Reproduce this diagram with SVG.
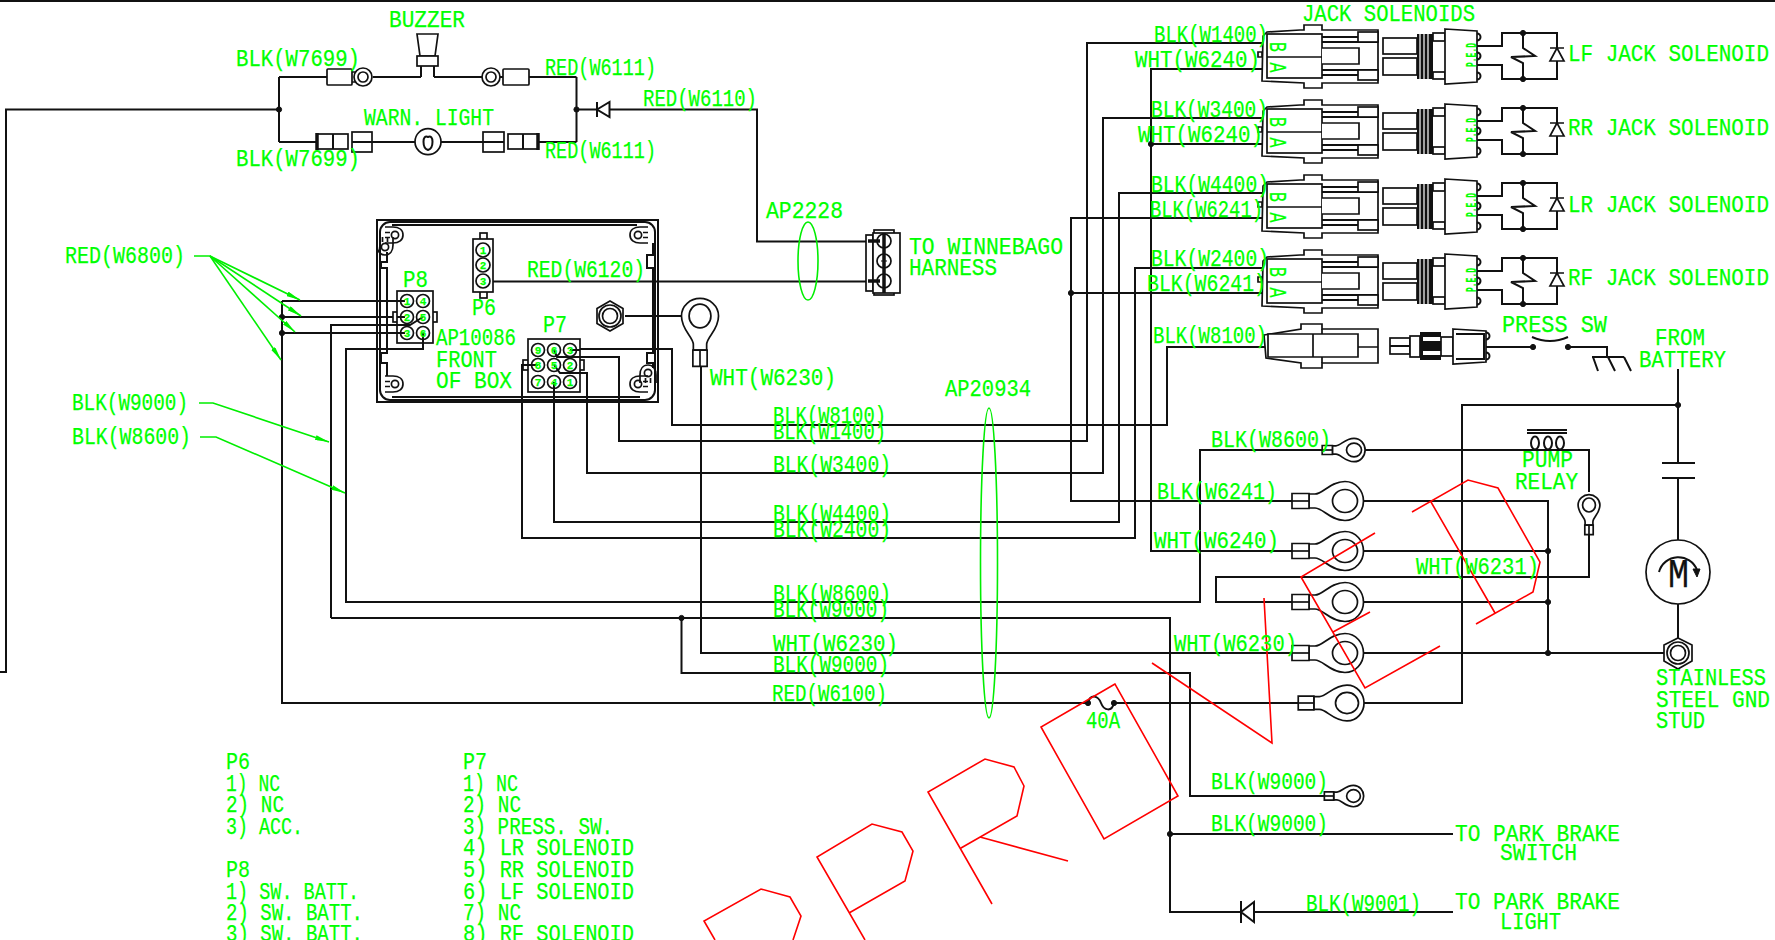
<svg xmlns="http://www.w3.org/2000/svg" width="1775" height="940" viewBox="0 0 1775 940">
<style>
text{font-family:"Liberation Mono",monospace;fill:#00ff00;font-size:23px;stroke:#00ff00;stroke-width:.25}
.pin{font-size:11px;font-weight:bold;text-anchor:middle}
.ped{font-size:15px;font-weight:bold}
.w{fill:none;stroke:#111;stroke-width:2}
.s{fill:#fff;stroke:#111;stroke-width:1.7}
.n{fill:none;stroke:#111;stroke-width:1.7;vector-effect:non-scaling-stroke}
.ns{fill:#fff;stroke:#111;stroke-width:1.7;vector-effect:non-scaling-stroke}
.g{fill:none;stroke:#00ee00;stroke-width:1.6}
.r{fill:none;stroke:#f00;stroke-width:1.6}
.k{fill:#111;stroke:#111;stroke-width:1}
</style>
<defs>
<marker id="ah" viewBox="0 0 14 5" refX="14" refY="2.5" markerWidth="14" markerHeight="5" markerUnits="userSpaceOnUse" orient="auto"><path d="M0,0L14,2.5L0,5z" fill="#00ee00"/></marker>
<g id="ring">
<path class="ns" d="M-36,-7L-30,-7C-22,-7-15,-19.5 0,-19.5C11,-19.5 18.5,-10 18.5,0C18.5,10 11,19.5 0,19.5C-15,19.5-22,7-30,7L-36,7Z"/>
<ellipse class="n" rx="12.5" ry="11.5"/>
<rect class="ns" x="-53" y="-7.5" width="17" height="15"/>
<path class="n" d="M-53,0H-36"/>
</g>
<g id="boss">
<circle class="n" r="3.6"/>
<path class="n" d="M-10,-8H-2C4,-8 8,-5 8,0C8,5 4,8 -2,8H-10M-10,-2.5H-5M-10,2.5H-5"/>
</g>
<g id="jack">
<path class="s" d="M1263,36L1267,32L1300,30L1304,30L1304,25L1322,25L1322,30L1378,30L1378,83L1322,83L1322,88L1304,88L1304,83L1262,81Z"/>
<path class="w" d="M1322,37H1378M1322,42H1378M1322,70H1378M1322,75H1378"/>
<rect class="s" x="1267" y="34" width="55" height="44"/>
<path class="s" d="M1267,57H1322M1322,48H1359V64H1322"/>
<rect class="s" x="1358" y="32" width="20" height="10"/>
<rect class="s" x="1358" y="70" width="20" height="10"/>
<path class="s" d="M1262,52h-4v5h4z"/>
<rect class="s" x="1383" y="38" width="34" height="16"/>
<rect class="s" x="1383" y="58" width="34" height="17"/>
<rect x="1417" y="34" width="16" height="45" fill="#111"/>
<path stroke="#fff" stroke-width="1.2" d="M1420,34V79M1424,34V79M1428,34V79"/>
<rect class="s" x="1433" y="33" width="12" height="8"/>
<rect class="s" x="1433" y="72" width="12" height="7"/>
<path class="s" d="M1445,29L1477,31V82L1445,84Z"/>
<path class="w" d="M1477,33.5a3.5,3.5 0 0 1 0,7M1477,52.5a3.5,3.5 0 0 1 0,7M1477,72.5a3.5,3.5 0 0 1 0,7"/>
<path class="w" d="M1477,46H1502V33H1557V79H1502V65H1477"/>
<path class="w" d="M1523,33V48L1535,56L1511,57L1523,63V79"/>
<circle class="k" cx="1523" cy="33" r="2.6"/><circle class="k" cx="1523" cy="79" r="2.6"/>
<path class="s" d="M1557,48L1550,61H1564ZM1550,48H1564"/>
</g>
</defs>

<path d="M0,1H1775" stroke="#111" stroke-width="2"/>

<g id="connectors">
<path class="w" d="M0,672H6V109.5H279M279,77V142M279,77H327M373,77H421M434,77H503M529,77H576.5M576.5,77V142M279,142H317M372,142H415M441,142H483M538,142H576.5M576.5,109.5H597"/>
<path class="w" d="M610,109.5H757V241.5H868M483,281.5H868"/>
<path class="w" d="M282,301V703H1088M282,301H407M282,317H407M282,333H407M1114,703H1299M1364,703H1462V405H1678"/>
<path class="w" d="M1678,369V463M1678,478V540M1678,604V639"/>
<path class="w" d="M331,618V325H410L423,317M331,618H1170V912H1241M1254,912H1453M1170,834H1453M681.5,618V673H1190V796H1324"/>
<path class="w" d="M423,333V349H346V602H1200V450H1323M1365,450H1589V492M1589,535V577H1216V602H1292"/>
<path class="w" d="M1364,501H1548V653M1364,551H1548M1364,602H1548M1364,653H1664"/>
<path class="w" d="M570,349H672V425H1167V347H1266"/>
<path class="w" d="M554,350L557,357H619V441H1087V43H1262"/>
<path class="w" d="M554,365L560,373H587V473H1103V118H1262"/>
<path class="w" d="M554,382V522H1119V193H1262"/>
<path class="w" d="M538,365H522V538H1135V268H1262"/>
<path class="w" d="M701,361V653H1292"/>
<path class="w" d="M1292,501H1071V218H1262M1071,293H1262"/>
<path class="w" d="M1292,551H1151V69H1262M1151,144H1262"/>
<path class="w" d="M625,316H684"/>
<path class="w" d="M1484,347H1533M1568,347H1607V357"/>
<circle class="k" cx="279" cy="109.5" r="2.6"/><circle class="k" cx="576.5" cy="109.5" r="2.6"/>
<circle class="k" cx="282" cy="317" r="2.6"/><circle class="k" cx="282" cy="333" r="2.6"/>
<circle class="k" cx="681.5" cy="618" r="2.6"/><circle class="k" cx="1170" cy="834" r="2.6"/>
<circle class="k" cx="1071" cy="293" r="2.6"/><circle class="k" cx="1151" cy="144" r="2.6"/>
<circle class="k" cx="1678" cy="405" r="2.6"/>
<circle class="k" cx="1548" cy="551" r="2.6"/><circle class="k" cx="1548" cy="602" r="2.6"/><circle class="k" cx="1548" cy="653" r="2.6"/>
</g>

<g id="leaders">
<path class="g" d="M194,256H210L300,300" marker-end="url(#ah)"/>
<path class="g" d="M210,256L301,316" marker-end="url(#ah)"/>
<path class="g" d="M210,256L295,332" marker-end="url(#ah)"/>
<path class="g" d="M210,256L281,360" marker-end="url(#ah)"/>
<path class="g" d="M199,403H213L329,442" marker-end="url(#ah)"/>
<path class="g" d="M200,437H216L345,493" marker-end="url(#ah)"/>
<ellipse class="g" cx="808" cy="261" rx="10" ry="39"/>
<ellipse class="g" cx="989" cy="563" rx="8.5" ry="155"/>
</g>

<g id="diode-top"><path class="w" d="M597,102V117M597,109.5L609.5,102V117Z" fill="#fff"/></g>
<g id="buzzer">
<path class="s" d="M417,34H438L435,56H420Z"/><rect class="s" x="417" y="56" width="21" height="10"/>
<path class="w" d="M421,66V77M434,66V77"/>
</g>
<g id="term-tl"><rect class="s" x="327" y="69" width="25" height="16" rx="1"/><path class="s" d="M352,72H356M352,82H356"/><circle class="s" cx="363" cy="77" r="9"/><circle class="s" cx="363" cy="77" r="5"/></g>
<g id="term-tr"><rect class="s" x="503" y="69" width="26" height="16" rx="1"/><circle class="s" cx="491" cy="77" r="9"/><circle class="s" cx="491" cy="77" r="5"/></g>
<g id="lamp"><circle class="s" cx="428" cy="141.7" r="13"/><path class="w" d="M428,137C422,134 422,148 428,150C434,148 434,134 428,137Z"/></g>
<g id="plug-l"><rect class="s" x="317" y="134" width="31" height="15"/><path class="w" d="M333,134V149"/><path stroke="#111" stroke-width="3.5" d="M317,133V150"/><rect class="s" x="352" y="132" width="20" height="20"/><path class="w" d="M352,142H372"/></g>
<g id="plug-r"><rect class="s" x="483" y="132" width="21" height="20"/><path class="w" d="M483,142H504"/><rect class="s" x="508" y="134" width="30" height="15"/><path class="w" d="M523,134V149"/><path stroke="#111" stroke-width="3.5" d="M538,133V150"/></g>

<g id="box">
<rect x="377" y="220" width="281" height="182" fill="none" stroke="#111" stroke-width="2"/>
<rect x="380" y="222" width="275" height="178" rx="10" class="w"/>
<path class="w" d="M392,225H637M392,397H640M387,252V262H381V268H387V353H381V363H387V376M653,243V255H647V268H653V353H647V363H653V368"/>
<use href="#boss" transform="translate(395,235)"/>
<use href="#boss" transform="translate(385,247) rotate(90)"/>
<use href="#boss" transform="translate(638,235) scale(-1,1)"/>
<use href="#boss" transform="translate(395,384)"/>
<use href="#boss" transform="translate(638,384) scale(-1,1)"/>
<use href="#boss" transform="translate(648,373) rotate(-90)"/>
</g>

<g id="P6">
<rect class="s" x="480" y="233" width="7" height="65"/><rect class="s" x="473" y="239" width="20" height="53"/>
<circle class="s" cx="483" cy="250" r="7"/><circle class="s" cx="483" cy="265" r="7"/><circle class="s" cx="483" cy="281" r="7"/>
<text class="pin" x="483" y="254">1</text><text class="pin" x="483" y="269">2</text><text class="pin" x="483" y="285">3</text>
</g>
<g id="P8">
<rect class="s" x="393" y="312" width="44" height="10"/><rect class="s" x="397" y="291" width="36" height="52"/>
<circle class="s" cx="407" cy="301" r="6.5"/><circle class="s" cx="423" cy="301" r="6.5"/><circle class="s" cx="407" cy="317" r="6.5"/><circle class="s" cx="423" cy="317" r="6.5"/><circle class="s" cx="407" cy="333" r="6.5"/><circle class="s" cx="423" cy="333" r="6.5"/>
<path class="w" d="M397,301H405M397,317H405M397,325H410L423,317M397,333H405M423,333V343"/>
<text class="pin" x="407" y="305">1</text><text class="pin" x="423" y="305">4</text><text class="pin" x="407" y="321">2</text><text class="pin" x="423" y="321">5</text><text class="pin" x="407" y="337">3</text><text class="pin" x="423" y="337">6</text>
</g>
<g id="P7">
<rect class="s" x="523" y="360" width="61" height="10"/><rect class="s" x="528" y="339" width="52" height="53"/>
<circle class="s" cx="538" cy="350" r="6.5"/><circle class="s" cx="554" cy="350" r="6.5"/><circle class="s" cx="570" cy="350" r="6.5"/><circle class="s" cx="538" cy="365" r="6.5"/><circle class="s" cx="554" cy="365" r="6.5"/><circle class="s" cx="570" cy="365" r="6.5"/><circle class="s" cx="538" cy="382" r="6.5"/><circle class="s" cx="554" cy="382" r="6.5"/><circle class="s" cx="570" cy="382" r="6.5"/>
<path class="w" d="M570,350H580M554,350L557,357H580M554,365L560,373H580M554,382V392M538,365H523"/>
<text class="pin" x="538" y="354">9</text><text class="pin" x="554" y="354">6</text><text class="pin" x="570" y="354">3</text><text class="pin" x="538" y="369">8</text><text class="pin" x="554" y="369">5</text><text class="pin" x="570" y="369">2</text><text class="pin" x="538" y="386">7</text><text class="pin" x="554" y="386">4</text><text class="pin" x="570" y="386">1</text>
</g>
<g id="nut"><path class="s" d="M610,301L623,308.5V323.5L610,331L597,323.5V308.5Z"/><circle class="s" cx="610" cy="316" r="11"/><circle class="s" cx="610" cy="316" r="7.5"/></g>
<use href="#ring" transform="translate(700,316) rotate(-90) scale(.95)"/>

<g id="harness-conn">
<rect class="s" x="866" y="235" width="7" height="56"/><rect class="s" x="874" y="230" width="20" height="65"/><rect class="s" x="873" y="233" width="27" height="60"/>
<circle class="s" cx="884" cy="241" r="7"/><circle class="s" cx="884" cy="261" r="7"/><circle class="s" cx="884" cy="281" r="7"/>
<path stroke="#111" stroke-width="3.5" d="M868,241H880M868,281H880M884,233V293"/>
<path stroke="#111" stroke-width="1" fill="#fff" d="M881,261h6"/>
</g>

<g id="sol-lf"><use href="#jack"/></g>
<g id="sol-rr"><use href="#jack" transform="translate(0,75)"/></g>
<g id="sol-lr"><use href="#jack" transform="translate(0,150)"/></g>
<g id="sol-rf"><use href="#jack" transform="translate(0,225)"/></g>

<g id="conn-8100">
<path class="s" d="M1264,335L1301,329V324H1322V329H1378V363H1322V368H1301V363L1266,358Z"/>
<path class="s" d="M1268,334H1358V357H1268ZM1313,334V357M1322,329V334M1322,357V363M1358,347H1378"/>
<rect class="s" x="1390" y="338" width="20" height="16"/><path class="w" d="M1390,346H1410"/>
<rect class="s" x="1410" y="336" width="10" height="21"/>
<rect x="1420" y="332" width="21" height="28" fill="#111"/><rect x="1423" y="337" width="18" height="4" fill="#fff"/><rect x="1423" y="351" width="18" height="4" fill="#fff"/>
<rect class="s" x="1441" y="337" width="12" height="19"/>
<path class="s" d="M1453,329L1486,331V362L1453,364Z"/><path class="w" d="M1456,334H1484V359H1456M1486,332.5a3.5,3.5 0 0 1 0,7M1486,352.5a3.5,3.5 0 0 1 0,7"/>
</g>
<g id="press-sw"><circle class="k" cx="1533" cy="347" r="2.6"/><circle class="k" cx="1568" cy="347" r="2.6"/><path class="w" d="M1532,337Q1550,345 1568,337"/></g>
<g id="ground"><path class="w" d="M1592,357H1624M1593,357L1598,371M1608,357L1615,371M1624,357L1631,371"/></g>

<g id="pump-relay">
<path class="w" d="M1527,430H1567M1527,433H1567"/>
<ellipse class="w" cx="1535" cy="443" rx="4" ry="6.5"/><ellipse class="w" cx="1548" cy="443" rx="4" ry="6.5"/><ellipse class="w" cx="1560" cy="443" rx="4" ry="6.5"/>
<use href="#ring" transform="translate(1589,505) rotate(-90) scale(.56)"/>
</g>
<g id="capacitor"><path class="w" d="M1662,463H1695M1662,478H1695"/></g>
<g id="motor"><circle class="s" cx="1678" cy="572" r="32"/><path class="w" d="M1659,572A20,20 0 0 1 1697,570"/><path class="k" d="M1693,569L1700,569L1697,577Z"/><text x="1668" y="587" style="fill:#111;stroke:#111;font-size:40px" textLength="21" lengthAdjust="spacingAndGlyphs">M</text></g>
<g id="stud"><path class="s" d="M1678,638L1692,645V661L1678,669L1664,661V645Z"/><circle class="s" cx="1678" cy="653" r="11"/><circle class="s" cx="1678" cy="653" r="7.5"/></g>

<g id="lugs">
<use href="#ring" transform="translate(1345,501)"/>
<use href="#ring" transform="translate(1345,551)"/>
<use href="#ring" transform="translate(1345,602)"/>
<use href="#ring" transform="translate(1345,653)"/>
<use href="#ring" transform="translate(1347,703) scale(.92)"/>
<use href="#ring" transform="translate(1354,450) scale(.6)"/>
<use href="#ring" transform="translate(1353.5,796) scale(.55)"/>
</g>

<g id="fuse"><path stroke="#fff" stroke-width="3" d="M1089,703H1113"/><circle class="k" cx="1088" cy="703" r="2.6"/><circle class="k" cx="1114" cy="703" r="2.6"/><path class="w" d="M1088,703C1090,694 1098,695 1101,703C1104,711 1112,712 1114,703"/></g>
<g id="diode-bottom"><path class="w" d="M1241,901V923M1241,912L1254,902V922Z" fill="#fff"/></g>

<g id="approved">
<path class="r" d="M715,940L704,921L761,889L790,897L801,916L793,940"/>
<path class="r" d="M865,940L817,857L872,824L902,832L913,851L905,881L849,913"/>
<path class="r" d="M992,904L928,792L985,759L1014,767L1024,786L1017,816L961,848M980,837L1068,861"/>
<path class="r" d="M1115,684L1041,727L1104,839L1178,796Z"/>
<path class="r" d="M1264,598L1272,743L1152,663"/>
<path class="r" d="M1375,533L1301,577L1365,688L1440,646M1370,612L1333,632"/>
<path class="r" d="M1412,512L1468,480L1498,488L1540,562L1533,592L1476,624M1431,502L1495,613"/>
</g>

<g id="labels">
<text x="389" y="27" textLength="76" lengthAdjust="spacingAndGlyphs">BUZZER</text>
<text x="236" y="66" textLength="124" lengthAdjust="spacingAndGlyphs">BLK(W7699)</text>
<text x="545" y="75" textLength="111" lengthAdjust="spacingAndGlyphs">RED(W6111)</text>
<text x="643" y="106" textLength="114" lengthAdjust="spacingAndGlyphs">RED(W6110)</text>
<text x="364" y="125" textLength="130" lengthAdjust="spacingAndGlyphs">WARN. LIGHT</text>
<text x="236" y="166" textLength="124" lengthAdjust="spacingAndGlyphs">BLK(W7699)</text>
<text x="545" y="158" textLength="111" lengthAdjust="spacingAndGlyphs">RED(W6111)</text>
<text x="766" y="218" textLength="77" lengthAdjust="spacingAndGlyphs">AP2228</text>
<text x="909" y="254" textLength="154" lengthAdjust="spacingAndGlyphs">TO WINNEBAGO</text>
<text x="909" y="275" textLength="88" lengthAdjust="spacingAndGlyphs">HARNESS</text>
<text x="403" y="287" textLength="25" lengthAdjust="spacingAndGlyphs">P8</text>
<text x="472" y="315" textLength="24" lengthAdjust="spacingAndGlyphs">P6</text>
<text x="543" y="332" textLength="24" lengthAdjust="spacingAndGlyphs">P7</text>
<text x="436" y="345" textLength="80" lengthAdjust="spacingAndGlyphs">AP10086</text>
<text x="436" y="367" textLength="61" lengthAdjust="spacingAndGlyphs">FRONT</text>
<text x="436" y="388" textLength="76" lengthAdjust="spacingAndGlyphs">OF BOX</text>
<text x="527" y="277" textLength="118" lengthAdjust="spacingAndGlyphs">RED(W6120)</text>
<text x="710" y="385" textLength="126" lengthAdjust="spacingAndGlyphs">WHT(W6230)</text>
<text x="65" y="263" textLength="120" lengthAdjust="spacingAndGlyphs">RED(W6800)</text>
<text x="72" y="410" textLength="116" lengthAdjust="spacingAndGlyphs">BLK(W9000)</text>
<text x="72" y="444" textLength="119" lengthAdjust="spacingAndGlyphs">BLK(W8600)</text>
<text x="945" y="396" textLength="86" lengthAdjust="spacingAndGlyphs">AP20934</text>
<text x="773" y="423" textLength="113" lengthAdjust="spacingAndGlyphs">BLK(W8100)</text>
<text x="773" y="439" textLength="113" lengthAdjust="spacingAndGlyphs">BLK(W1400)</text>
<text x="773" y="472" textLength="118" lengthAdjust="spacingAndGlyphs">BLK(W3400)</text>
<text x="773" y="521" textLength="118" lengthAdjust="spacingAndGlyphs">BLK(W4400)</text>
<text x="773" y="537" textLength="118" lengthAdjust="spacingAndGlyphs">BLK(W2400)</text>
<text x="773" y="601" textLength="118" lengthAdjust="spacingAndGlyphs">BLK(W8600)</text>
<text x="773" y="617" textLength="116" lengthAdjust="spacingAndGlyphs">BLK(W9000)</text>
<text x="773" y="651" textLength="125" lengthAdjust="spacingAndGlyphs">WHT(W6230)</text>
<text x="773" y="672" textLength="116" lengthAdjust="spacingAndGlyphs">BLK(W9000)</text>
<text x="772" y="701" textLength="115" lengthAdjust="spacingAndGlyphs">RED(W6100)</text>
<text x="1211" y="447" textLength="120" lengthAdjust="spacingAndGlyphs">BLK(W8600)</text>
<text x="1157" y="499" textLength="120" lengthAdjust="spacingAndGlyphs">BLK(W6241)</text>
<text x="1154" y="548" textLength="125" lengthAdjust="spacingAndGlyphs">WHT(W6240)</text>
<text x="1174" y="651" textLength="123" lengthAdjust="spacingAndGlyphs">WHT(W6230)</text>
<text x="1416" y="574" textLength="123" lengthAdjust="spacingAndGlyphs">WHT(W6231)</text>
<text x="1154" y="42" textLength="114" lengthAdjust="spacingAndGlyphs">BLK(W1400)</text>
<text x="1135" y="67" textLength="125" lengthAdjust="spacingAndGlyphs">WHT(W6240)</text>
<text x="1151" y="117" textLength="117" lengthAdjust="spacingAndGlyphs">BLK(W3400)</text>
<text x="1138" y="142" textLength="125" lengthAdjust="spacingAndGlyphs">WHT(W6240)</text>
<text x="1151" y="192" textLength="118" lengthAdjust="spacingAndGlyphs">BLK(W4400)</text>
<text x="1150" y="217" textLength="113" lengthAdjust="spacingAndGlyphs">BLK(W6241)</text>
<text x="1151" y="266" textLength="118" lengthAdjust="spacingAndGlyphs">BLK(W2400)</text>
<text x="1147" y="291" textLength="119" lengthAdjust="spacingAndGlyphs">BLK(W6241)</text>
<text x="1153" y="343" textLength="114" lengthAdjust="spacingAndGlyphs">BLK(W8100)</text>
<text x="1302" y="21" textLength="173" lengthAdjust="spacingAndGlyphs">JACK SOLENOIDS</text>
<text x="1568" y="61" textLength="201" lengthAdjust="spacingAndGlyphs">LF JACK SOLENOID</text>
<text x="1568" y="135" textLength="201" lengthAdjust="spacingAndGlyphs">RR JACK SOLENOID</text>
<text x="1568" y="212" textLength="201" lengthAdjust="spacingAndGlyphs">LR JACK SOLENOID</text>
<text x="1568" y="285" textLength="201" lengthAdjust="spacingAndGlyphs">RF JACK SOLENOID</text>
<text x="1502" y="332" textLength="105" lengthAdjust="spacingAndGlyphs">PRESS SW</text>
<text x="1655" y="345" textLength="50" lengthAdjust="spacingAndGlyphs">FROM</text>
<text x="1639" y="367" textLength="87" lengthAdjust="spacingAndGlyphs">BATTERY</text>
<text x="1522" y="467" textLength="51" lengthAdjust="spacingAndGlyphs">PUMP</text>
<text x="1515" y="489" textLength="63" lengthAdjust="spacingAndGlyphs">RELAY</text>
<text x="1656" y="685" textLength="110" lengthAdjust="spacingAndGlyphs">STAINLESS</text>
<text x="1656" y="707" textLength="114" lengthAdjust="spacingAndGlyphs">STEEL GND</text>
<text x="1656" y="728" textLength="49" lengthAdjust="spacingAndGlyphs">STUD</text>
<text x="1086" y="728" textLength="34" lengthAdjust="spacingAndGlyphs">40A</text>
<text x="1211" y="789" textLength="117" lengthAdjust="spacingAndGlyphs">BLK(W9000)</text>
<text x="1211" y="831" textLength="117" lengthAdjust="spacingAndGlyphs">BLK(W9000)</text>
<text x="1306" y="911" textLength="115" lengthAdjust="spacingAndGlyphs">BLK(W9001)</text>
<text x="1455" y="841" textLength="165" lengthAdjust="spacingAndGlyphs">TO PARK BRAKE</text>
<text x="1500" y="860" textLength="77" lengthAdjust="spacingAndGlyphs">SWITCH</text>
<text x="1455" y="909" textLength="165" lengthAdjust="spacingAndGlyphs">TO PARK BRAKE</text>
<text x="1500" y="929" textLength="61" lengthAdjust="spacingAndGlyphs">LIGHT</text>
<text x="226" y="769" textLength="24" lengthAdjust="spacingAndGlyphs">P6</text>
<text x="226" y="791" textLength="54" lengthAdjust="spacingAndGlyphs">1) NC</text>
<text x="226" y="812" textLength="58" lengthAdjust="spacingAndGlyphs">2) NC</text>
<text x="226" y="834" textLength="77" lengthAdjust="spacingAndGlyphs">3) ACC.</text>
<text x="226" y="877" textLength="24" lengthAdjust="spacingAndGlyphs">P8</text>
<text x="226" y="899" textLength="133" lengthAdjust="spacingAndGlyphs">1) SW. BATT.</text>
<text x="226" y="920" textLength="137" lengthAdjust="spacingAndGlyphs">2) SW. BATT.</text>
<text x="226" y="941" textLength="137" lengthAdjust="spacingAndGlyphs">3) SW. BATT.</text>
<text x="463" y="769" textLength="24" lengthAdjust="spacingAndGlyphs">P7</text>
<text x="463" y="791" textLength="55" lengthAdjust="spacingAndGlyphs">1) NC</text>
<text x="463" y="812" textLength="58" lengthAdjust="spacingAndGlyphs">2) NC</text>
<text x="463" y="834" textLength="150" lengthAdjust="spacingAndGlyphs">3) PRESS. SW.</text>
<text x="463" y="855" textLength="171" lengthAdjust="spacingAndGlyphs">4) LR SOLENOID</text>
<text x="463" y="877" textLength="171" lengthAdjust="spacingAndGlyphs">5) RR SOLENOID</text>
<text x="463" y="899" textLength="171" lengthAdjust="spacingAndGlyphs">6) LF SOLENOID</text>
<text x="463" y="920" textLength="58" lengthAdjust="spacingAndGlyphs">7) NC</text>
<text x="463" y="941" textLength="171" lengthAdjust="spacingAndGlyphs">8) RF SOLENOID</text>
<text transform="translate(1270,42) rotate(90)" textLength="10" lengthAdjust="spacingAndGlyphs">B</text>
<text transform="translate(1270,62.5) rotate(90)" textLength="10" lengthAdjust="spacingAndGlyphs">A</text>
<text transform="translate(1270,117) rotate(90)" textLength="10" lengthAdjust="spacingAndGlyphs">B</text>
<text transform="translate(1270,137.5) rotate(90)" textLength="10" lengthAdjust="spacingAndGlyphs">A</text>
<text transform="translate(1270,192) rotate(90)" textLength="10" lengthAdjust="spacingAndGlyphs">B</text>
<text transform="translate(1270,212.5) rotate(90)" textLength="10" lengthAdjust="spacingAndGlyphs">A</text>
<text transform="translate(1270,267) rotate(90)" textLength="10" lengthAdjust="spacingAndGlyphs">B</text>
<text transform="translate(1270,287.5) rotate(90)" textLength="10" lengthAdjust="spacingAndGlyphs">A</text>
<text class="ped" transform="translate(1476,67) rotate(-90)" textLength="24" lengthAdjust="spacingAndGlyphs">P.E.D</text>
<text class="ped" transform="translate(1476,142) rotate(-90)" textLength="24" lengthAdjust="spacingAndGlyphs">P.E.D</text>
<text class="ped" transform="translate(1476,217) rotate(-90)" textLength="24" lengthAdjust="spacingAndGlyphs">P.E.D</text>
<text class="ped" transform="translate(1476,292) rotate(-90)" textLength="24" lengthAdjust="spacingAndGlyphs">P.E.D</text>
</g>
</svg>
